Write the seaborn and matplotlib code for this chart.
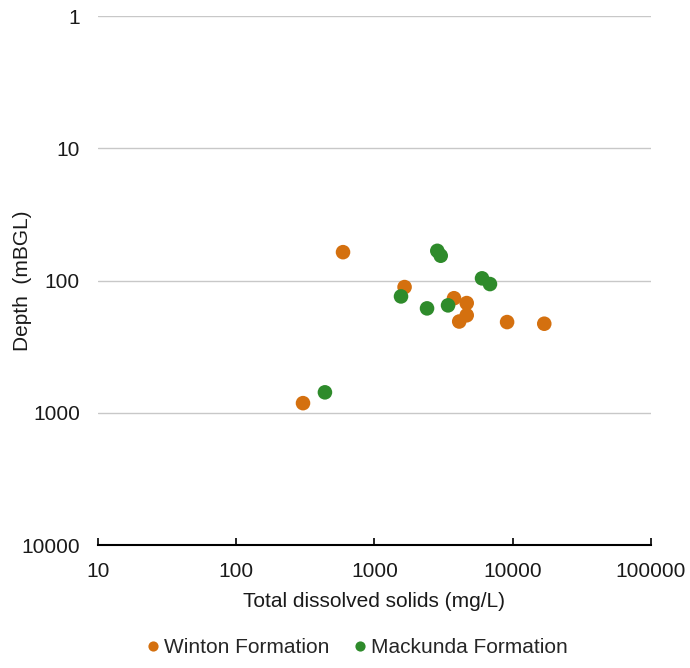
import numpy as np
import pandas as pd
import seaborn as sns
import matplotlib.pyplot as plt
from matplotlib.ticker import FixedLocator, NullLocator, FixedFormatter

# values
winton_tds = [592, 1650, 3760, 4645, 4645, 4100, 9100, 16900, 304]
winton_depth = [61, 112, 136, 148, 183, 204, 206, 212, 845]
mackunda_tds = [2846, 3013, 5995, 6842, 1555, 2399, 3404, 438]
mackunda_depth = [59.6, 64.9, 96.2, 106.3, 131.8, 162.3, 154.0, 700]

formations = ['Winton Formation', 'Mackunda Formation']
colors = ['#D4700F', '#2E8B2B']
ticks = [1, 10, 100, 1000, 10000]
xticks = [10, 100, 1000, 10000, 100000]

df = pd.DataFrame({
    'tds': winton_tds + mackunda_tds,
    'depth': winton_depth + mackunda_depth,
    'formation': [formations[0]] * len(winton_tds) + [formations[1]] * len(mackunda_tds),
})

sns.set_style('white')
plt.rcParams['font.family'] = ['Liberation Sans', 'DejaVu Sans']
fs = 15

fig = plt.figure(figsize=(6.9, 6.68), dpi=100)
ax = fig.add_axes([0.142, 0.184, 0.8015, 0.792])

sns.scatterplot(data=df, x='tds', y='depth', hue='formation', hue_order=formations,
                palette=colors, s=110, linewidth=0, ax=ax, zorder=3)

ax.set_xscale('log')
ax.set_yscale('log')
ax.set_xlim(10, 100000)
ax.set_ylim(10000, 1)

ax.xaxis.set_major_locator(FixedLocator(xticks))
ax.xaxis.set_major_formatter(FixedFormatter([str(t) for t in xticks]))
ax.xaxis.set_minor_locator(NullLocator())
ax.yaxis.set_major_locator(FixedLocator(ticks))
ax.yaxis.set_major_formatter(FixedFormatter([str(t) for t in ticks]))
ax.yaxis.set_minor_locator(NullLocator())

ax.grid(axis='y', color='#C8C8C8', linewidth=1)
ax.grid(axis='x', visible=False)
for side in ['left', 'right', 'top']:
    ax.spines[side].set_visible(False)
ax.spines['bottom'].set_color('black')
ax.spines['bottom'].set_linewidth(1.5)

ax.tick_params(axis='x', direction='in', length=5, width=1.2, color='black',
               bottom=True, pad=12, labelsize=fs, labelcolor='#1a1a1a')
ax.tick_params(axis='y', length=0, pad=13, labelsize=fs, labelcolor='#1a1a1a')

ax.set_xlabel('Total dissolved solids (mg/L)', fontsize=fs, labelpad=8, color='#1a1a1a')
ax.set_ylabel('Depth  (mBGL)', fontsize=fs, color='#1a1a1a')
ax.yaxis.set_label_coords(-0.119, 0.5)

ax.legend(loc='upper center', bbox_to_anchor=(0.4555, -0.14), ncol=2, frameon=False,
          markerscale=0.7, handletextpad=-0.45, columnspacing=0.45, fontsize=fs,
          title=None)

fig.savefig('out.png', dpi=100)
